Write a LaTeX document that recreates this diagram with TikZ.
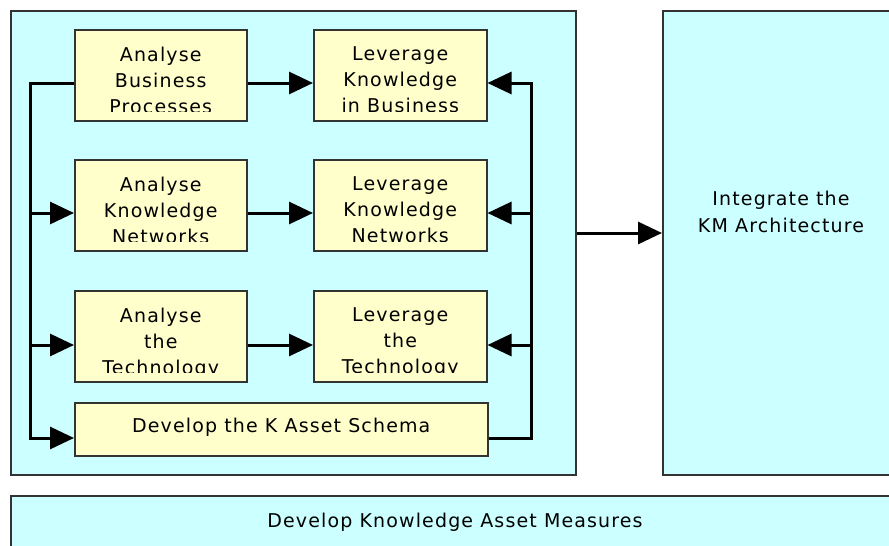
\documentclass[tikz,border=0pt]{standalone}
\usepackage{fontspec}
\setmainfont{DejaVu Sans}[LetterSpace=6]
\usetikzlibrary{arrows.meta}
\definecolor{panelcyan}{HTML}{CCFFFF}
\definecolor{taskyellow}{HTML}{FFFFCC}
\definecolor{edgegray}{HTML}{333333}

\begin{document}
\begin{tikzpicture}[x=1pt,y=-1pt,
  panel/.style={draw=edgegray, line width=1.5pt, fill=panelcyan, inner sep=0, anchor=north west},
  taskbox/.style={draw=edgegray, line width=1.5pt, fill=taskyellow, inner sep=0, anchor=north west},
  tasktext/.style={font=\fontsize{19}{26}\selectfont, align=center, inner sep=0, anchor=north},
  plaintext/.style={font=\fontsize{19}{27}\selectfont, align=center, inner sep=0},
  flow/.style={line width=3pt, -{Triangle[length=24pt,width=22pt]}},
]
\clip (0,0) rectangle (889,546);
\fill[white] (0,0) rectangle (889,546);

% panels
\node[panel, minimum width=565pt, minimum height=464pt] (design) at (10,10) {};
\node[panel, minimum width=240pt, minimum height=464pt] (integrate) at (662,10) {};
\node[panel, minimum width=890pt, minimum height=80pt] (measures) at (10,495) {};

\node[plaintext, anchor=north] (integratetext) at (781,191) {Integrate the\\KM Architecture};
\node[plaintext, anchor=base] (measurestext) at (455,527) {Develop Knowledge Asset Measures};

% task boxes
\node[taskbox, minimum width=172pt, minimum height=91pt] (ab) at (74,29) {};
\node[taskbox, minimum width=172pt, minimum height=91pt] (ak) at (74,159) {};
\node[taskbox, minimum width=172pt, minimum height=91pt] (at) at (74,290) {};
\node[taskbox, minimum width=173pt, minimum height=91pt] (lb) at (313,29) {};
\node[taskbox, minimum width=173pt, minimum height=91pt] (lk) at (313,159) {};
\node[taskbox, minimum width=173pt, minimum height=91pt] (lt) at (313,290) {};
\node[taskbox, minimum width=413pt, minimum height=53pt] (schema) at (74,402) {};

% task texts, cut off above the lower edge of their boxes
\foreach \b/\t in {ab/{Analyse\\Business\\Processes},
                   ak/{Analyse\\Knowledge\\Networks},
                   at/{Analyse\\the\\Technology},
                   lb/{Leverage\\Knowledge\\in Business},
                   lk/{Leverage\\Knowledge\\Networks},
                   lt/{Leverage\\the\\Technology}}{
  \begin{scope}
    \clip (\b.north west) rectangle ([yshift=10.5pt]\b.south east);
    \node[tasktext] (\b text) at ([yshift=-17.5pt]\b.north) {\t};
  \end{scope}
}
\node[plaintext, anchor=base] (schematext) at ([yshift=-3.5pt]schema.center) {Develop the K Asset Schema};

% rails
\coordinate (lrTop) at (30,83);
\coordinate (lrK) at (30,213);
\coordinate (lrT) at (30,345);
\coordinate (lrBot) at (30,438);
\coordinate (rrTop) at (531,83);
\coordinate (rrK) at (531,213);
\coordinate (rrT) at (531,345);
\coordinate (rrBot) at (531,438);
\coordinate (out) at (575,233);

% left rail feeding the analysis tasks
\draw[flow] (ab.west |- lrTop) -- (lrTop) -- (lrBot) -- (schema.west |- lrBot);
\draw[flow] (lrK) -- (ak.west |- lrK);
\draw[flow] (lrT) -- (at.west |- lrT);

% analysis to leverage
\draw[flow] (ab.east |- rrTop) -- (lb.west |- rrTop);
\draw[flow] (ak.east |- rrK) -- (lk.west |- rrK);
\draw[flow] (at.east |- rrT) -- (lt.west |- rrT);

% right rail from the schema back to the leverage tasks
\draw[flow] (schema.east |- rrBot) -- (rrBot) -- (rrTop) -- (lb.east |- rrTop);
\draw[flow] (rrK) -- (lk.east |- rrK);
\draw[flow] (rrT) -- (lt.east |- rrT);

% design panel to architecture
\draw[flow] (design.east |- out) -- (integrate.west |- out);
\end{tikzpicture}
\end{document}
